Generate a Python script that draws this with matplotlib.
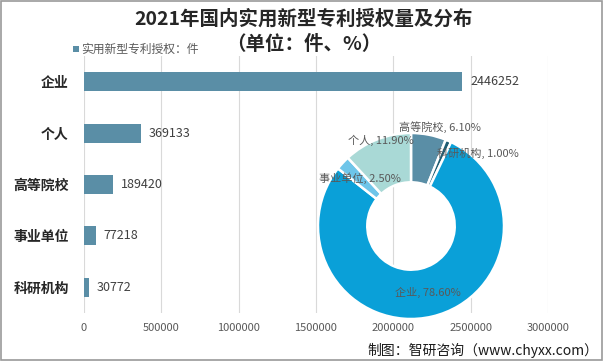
import matplotlib.pyplot as plt
from matplotlib.patches import Rectangle

plt.rcParams['font.family'] = ['Noto Sans CJK SC', 'DejaVu Sans']

# 数据
cats = ['企业', '个人', '高等院校', '事业单位', '科研机构']
counts = [2446252, 369133, 189420, 77218, 30772]

pie_cats = ['高等院校', '科研机构', '企业', '事业单位', '个人']
pie_pct = [6.10, 1.00, 78.60, 2.50, 11.90]
pie_colors = ['#5a8ea6', '#1f5d73', '#0aa0d8', '#6ec5e9', '#a9d9d6']
# 标签位置（饼图坐标）
pie_lbl_pos = [(0.31, 1.06), (0.72, 0.78), (0.18, -0.72), (-0.55, 0.51), (-0.32, 0.92)]

xticks = [0, 500000, 1000000, 1500000, 2000000, 2500000, 3000000]

W, H = 603, 361
fig = plt.figure(figsize=(W/100, H/100), dpi=100)
fig.patch.set_facecolor('white')
fig.patches.append(Rectangle((0.001, 0.002), 0.997, 0.995, transform=fig.transFigure,
                             fill=False, edgecolor='#9a9a9a', linewidth=1.2))

# 条形图
ax = fig.add_axes([84/W, 1-313/H, 464/W, 257/H])
ax.barh(range(len(cats)), counts, height=0.37, color='#5a8ea6', zorder=2)
ax.set_xlim(0, 3000000)
ax.set_ylim(4.5, -0.5)
ax.set_yticks(range(len(cats)))
ax.set_yticklabels(cats, fontsize=10, fontweight='bold', color='#262626')
ax.set_xticks(xticks)
ax.set_xticklabels([str(v) for v in xticks], fontsize=8, color='#595959')
ax.tick_params(length=0, axis='y', pad=11)
ax.tick_params(length=0, axis='x', pad=7)
for s in ax.spines.values():
    s.set_visible(False)
ax.grid(axis='x', color='#d9d9d9', linewidth=0.8, zorder=0)
for i, v in enumerate(counts):
    ax.text(v + 50000, i, str(v), va='center', ha='left', fontsize=9, color='#404040')

# 环形图
R = 93
pax = fig.add_axes([(411-R)/W, 1-(226+R)/H, 2*R/W, 2*R/H])
pax.pie(pie_pct, colors=pie_colors, startangle=90, counterclock=False, radius=1,
        wedgeprops=dict(width=0.53, edgecolor='white', linewidth=1.8))
pax.set_xlim(-1, 1)
pax.set_ylim(-1, 1)
pax.set_aspect('equal')
pax.axis('off')
for c, p, (x, y) in zip(pie_cats, pie_pct, pie_lbl_pos):
    pax.text(x, y, f'{c}, {p:.2f}%', ha='center', va='center', fontsize=8, color='#595959')

# 标题
fig.text(0.503, 1-19/H, '2021年国内实用新型专利授权量及分布', ha='center', va='center',
         fontsize=14, fontweight='bold', color='#262626')
fig.text(0.503, 1-44/H, '（单位：件、%）', ha='center', va='center',
         fontsize=14, fontweight='bold', color='#262626')

# 图例
fig.patches.append(Rectangle((73/W, 1-52/H), 6/W, 6/H, transform=fig.transFigure,
                             facecolor='#5a8ea6', edgecolor='none'))
fig.text(81/W, 1-49/H, '实用新型专利授权：件', ha='left', va='center', fontsize=8.5, color='#595959')

# 来源
fig.text(598/W, 1-350/H, '制图：智研咨询（www.chyxx.com）', ha='right', va='center',
         fontsize=10, color='#1a1a1a')

fig.savefig('out.png', dpi=100)
